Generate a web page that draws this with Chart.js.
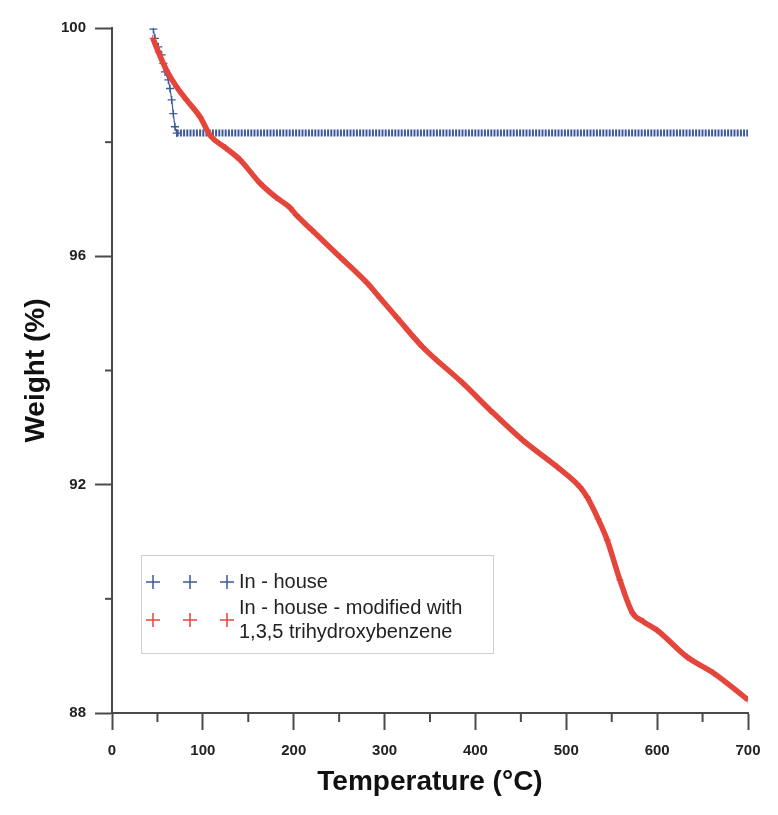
<!DOCTYPE html>
<html>
<head>
<meta charset="utf-8">
<script src="https://cdn.jsdelivr.net/npm/chart.js@4.4.0/dist/chart.umd.min.js"></script>
<style>
  html, body { margin: 0; padding: 0; background: #fff; }
  #wrap { width: 778px; height: 815px; position: relative; }
</style>
</head>
<body>
<div id="wrap"><canvas id="tgaChart"></canvas></div>
<script>
// datos
const inHouseTemp = [45.5, 47.3, 51, 54.7, 56.5, 58.3, 62, 63.8, 65.7, 67.5, 69.3, 71.2, 100, 200, 300, 400, 500, 600, 700];
const inHouseWeight = [99.98, 99.82, 99.67, 99.53, 99.38, 99.23, 99.09, 98.94, 98.74, 98.5, 98.27, 98.16, 98.16, 98.16, 98.16, 98.16, 98.16, 98.16, 98.16];

const modifiedTemp = [45, 51, 60, 71, 82, 97, 108, 125, 141, 163, 180, 196, 203, 220, 251, 281, 295, 314, 342, 386, 416, 452, 490, 515, 523, 535, 545, 559, 573, 585, 600, 633, 662, 700];
const modifiedWeight = [99.82, 99.58, 99.26, 98.97, 98.74, 98.44, 98.12, 97.9, 97.69, 97.28, 97.04, 96.85, 96.72, 96.46, 95.99, 95.53, 95.27, 94.92, 94.41, 93.78, 93.31, 92.78, 92.31, 91.96, 91.78, 91.4, 91.03, 90.33, 89.75, 89.6, 89.45, 88.98, 88.7, 88.23];

const xTickLabels = [0, 100, 200, 300, 400, 500, 600, 700];
const xMinorTicks = [50, 150, 250, 350, 450, 550, 650];
const yTickLabels = [88, 92, 96, 100];
const yMinorTicks = [90, 94, 98];

const legendItems = [
    { lines: ["In - house"], color: "#3d5a9c" },
    { lines: ["In - house - modified with", "1,3,5 trihydroxybenzene"], color: "#e5463c" },
];

const AXIS_COLOR = "#4a4a4a";
const FONT = "'Liberation Sans', Arial, sans-serif";

function toPoints(xs, ys) {
    return xs.map((x, i) => ({ x: x, y: ys[i] }));
}

// ticks menores y leyenda dibujados a mano
const extrasPlugin = {
    id: "extras",
    afterDraw(chart) {
        const { ctx, chartArea, scales } = chart;
        ctx.save();
        ctx.strokeStyle = AXIS_COLOR;
        ctx.lineWidth = 2;
        xMinorTicks.forEach((v) => {
            const px = scales.x.getPixelForValue(v);
            ctx.beginPath();
            ctx.moveTo(px, chartArea.bottom);
            ctx.lineTo(px, chartArea.bottom + 9);
            ctx.stroke();
        });
        yMinorTicks.forEach((v) => {
            const py = scales.y.getPixelForValue(v);
            ctx.beginPath();
            ctx.moveTo(chartArea.left - 7, py);
            ctx.lineTo(chartArea.left, py);
            ctx.stroke();
        });

        // leyenda
        const box = { x: 141, y: 555, w: 352, h: 98 };
        ctx.strokeStyle = "#cfcfcf";
        ctx.lineWidth = 1;
        ctx.strokeRect(box.x + 0.5, box.y + 0.5, box.w, box.h);

        const rows = [582, 620];
        const crossX = [153, 190, 227];
        ctx.font = "20px " + FONT;
        ctx.fillStyle = "#222";
        ctx.textBaseline = "middle";
        legendItems.forEach((item, i) => {
            const cy = rows[i];
            ctx.strokeStyle = item.color;
            ctx.lineWidth = 1.5;
            crossX.forEach((cx) => {
                ctx.beginPath();
                ctx.moveTo(cx - 7, cy);
                ctx.lineTo(cx + 7, cy);
                ctx.moveTo(cx, cy - 7);
                ctx.lineTo(cx, cy + 7);
                ctx.stroke();
            });
            const lh = 24;
            const start = cy - ((item.lines.length - 1) * lh) / 2;
            item.lines.forEach((line, j) => {
                ctx.fillText(line, 239, start + j * lh);
            });
        });
        ctx.restore();
    },
};

function isFlatPart(ctx) {
    return ctx.p0 && ctx.p0.parsed.x >= 71;
}

const chart = new Chart(document.getElementById("tgaChart"), {
    type: "scatter",
    data: {
        datasets: [
            {
                label: "In - house - modified with 1,3,5 trihydroxybenzene",
                data: toPoints(modifiedTemp, modifiedWeight),
                showLine: true,
                borderColor: "#e5463c",
                backgroundColor: "#e5463c",
                borderWidth: 5.5,
                cubicInterpolationMode: "monotone",
                pointStyle: "cross",
                pointRadius: 3.5,
                pointBorderWidth: 1,
                pointBorderColor: "#e0413a",
                order: 0,
            },
            {
                label: "In - house",
                data: toPoints(inHouseTemp, inHouseWeight),
                showLine: true,
                borderColor: "#3d5a9c",
                backgroundColor: "#3d5a9c",
                borderWidth: 1.5,
                segment: {
                    borderWidth: (ctx) => (isFlatPart(ctx) ? 7 : 1.2),
                    borderDash: (ctx) => (isFlatPart(ctx) ? [2, 1.2] : []),
                },
                tension: 0,
                pointStyle: "cross",
                pointRadius: (ctx) => (ctx.raw && ctx.raw.x > 72 ? 0 : 4),
                pointBorderWidth: 1.3,
                order: 1,
            },
        ],
    },
    options: {
        responsive: true,
        maintainAspectRatio: false,
        animation: false,
        layout: {
            padding: { top: 28, right: 30, left: 0, bottom: 0 },
        },
        plugins: {
            legend: { display: false },
            tooltip: { enabled: false },
        },
        scales: {
            x: {
                type: "linear",
                min: 0,
                max: 700,
                afterFit: (scale) => {
                    scale.height = 102;
                },
                ticks: {
                    stepSize: 100,
                    padding: 12,
                    color: "#222",
                    font: { family: FONT, size: 15, weight: "bold" },
                    callback: (v) => (xTickLabels.includes(v) ? v : ""),
                },
                grid: {
                    drawOnChartArea: false,
                    tickLength: 17,
                    tickWidth: 2,
                    tickColor: AXIS_COLOR,
                },
                border: { color: AXIS_COLOR, width: 2 },
                title: {
                    display: true,
                    text: "Temperature (°C)",
                    color: "#111",
                    font: { family: FONT, size: 28, weight: "bold" },
                    padding: { top: 0, bottom: 16 },
                },
            },
            y: {
                type: "linear",
                min: 88,
                max: 100,
                afterFit: (scale) => {
                    scale.width = 112;
                },
                ticks: {
                    stepSize: 4,
                    padding: 9,
                    color: "#222",
                    font: { family: FONT, size: 15, weight: "bold" },
                    callback: (v) => (yTickLabels.includes(v) ? v : ""),
                },
                grid: {
                    drawOnChartArea: false,
                    tickLength: 17,
                    tickWidth: 2,
                    tickColor: AXIS_COLOR,
                },
                border: { color: AXIS_COLOR, width: 2 },
                title: {
                    display: true,
                    text: "Weight (%)",
                    color: "#111",
                    font: { family: FONT, size: 28, weight: "bold" },
                    padding: { top: 19, bottom: 0 },
                },
            },
        },
    },
    plugins: [extrasPlugin],
});
</script>
</body>
</html>
